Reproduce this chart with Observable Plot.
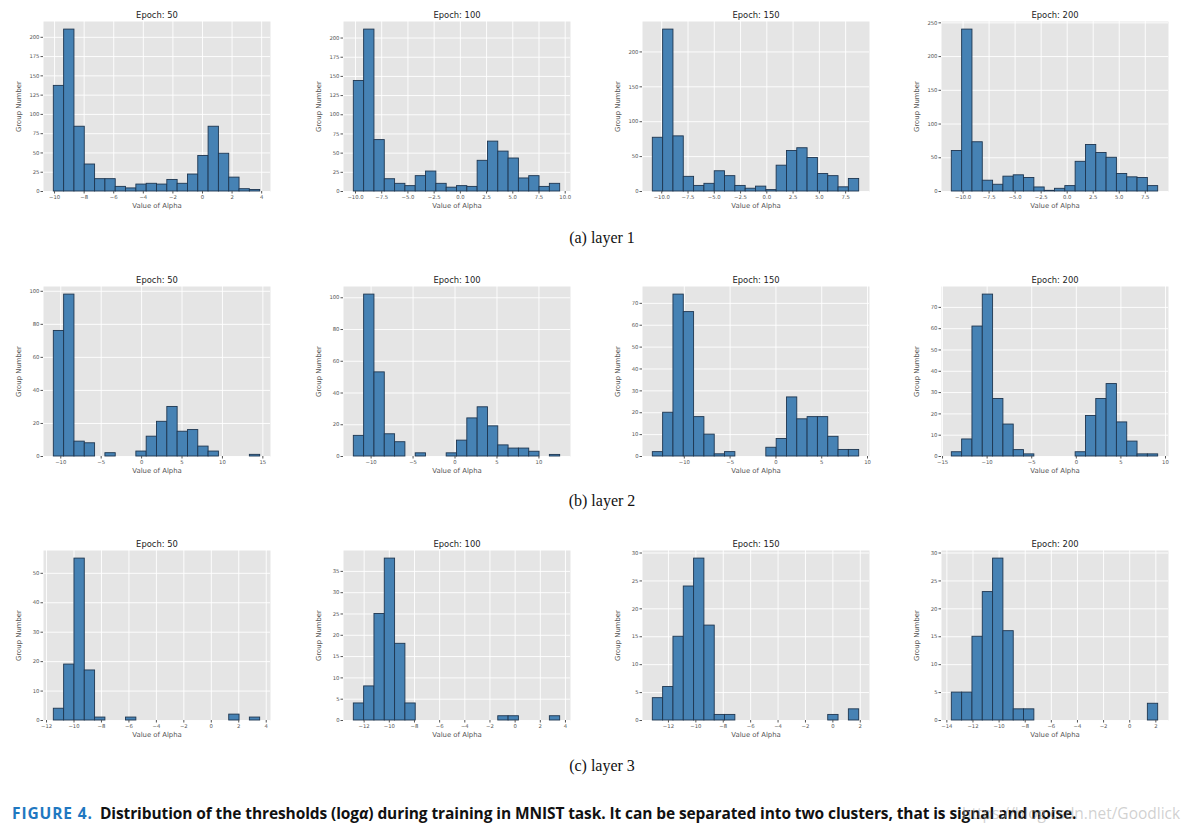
<!DOCTYPE html>
<html>
<head>
<meta charset="utf-8">
<script src="https://cdn.jsdelivr.net/npm/d3@7"></script>
<script src="https://cdn.jsdelivr.net/npm/@observablehq/plot@0.6"></script>
<style>
  html, body { margin: 0; padding: 0; background: #ffffff; }
  #fig { position: relative; width: 1189px; height: 833px; overflow: hidden; background: #fff; }
  .panel { position: absolute; }
  .panel svg { overflow: visible; }
  .sub { position: absolute; width: 200px; text-align: center; font-family: "Liberation Serif", "Times New Roman", serif; font-size: 16px; color: #111; line-height: 1; }
  #caption { position: absolute; left: 12px; top: 804px; white-space: nowrap; font-family: "Open Sans", sans-serif; font-weight: 700; font-size: 15.5px; color: #111; line-height: 1.2; letter-spacing: -0.1px; }
  #caption .fig { color: #1f78c1; margin-right: 7px; letter-spacing: 0.9px; }
  #wm { position: absolute; left: 962px; top: 804px; white-space: nowrap; font-family: "Open Sans", sans-serif; font-size: 15.5px; color: rgba(170,170,170,0.55); line-height: 1.2; }
</style>
</head>
<body>
<div id="fig"></div>
<script>
// ---------- text ----------
const epochTitles = ["Epoch: 50", "Epoch: 100", "Epoch: 150", "Epoch: 200"];
const layerCaptions = ["(a) layer 1", "(b) layer 2", "(c) layer 3"];
const xLabel = "Value of Alpha";
const yLabel = "Group Number";

// ---------- histogram counts (20 bins each) ----------
const layer1Epoch50  = [137, 210, 84, 35, 16, 16, 6, 4, 9, 10, 9, 15, 10, 22, 46, 84, 49, 18, 3, 2];
const layer1Epoch100 = [144, 211, 67, 16, 10, 7, 20, 26, 10, 5, 7, 6, 40, 65, 52, 43, 17, 20, 6, 10];
const layer1Epoch150 = [77, 232, 79, 21, 8, 11, 29, 22, 8, 4, 7, 2, 37, 58, 62, 48, 25, 22, 6, 18];
const layer1Epoch200 = [60, 240, 73, 16, 10, 22, 24, 20, 6, 1, 4, 8, 44, 69, 57, 50, 26, 21, 20, 8];

const layer2Epoch50  = [76, 98, 9, 8, 0, 2, 0, 0, 3, 12, 21, 30, 15, 16, 6, 3, 0, 0, 0, 1];
const layer2Epoch100 = [13, 102, 53, 14, 9, 0, 2, 0, 0, 2, 10, 24, 31, 19, 7, 5, 5, 3, 0, 1];
const layer2Epoch150 = [2, 20, 74, 66, 18, 10, 1, 2, 0, 0, 0, 4, 8, 27, 17, 18, 18, 9, 3, 3];
const layer2Epoch200 = [2, 8, 61, 76, 27, 15, 3, 1, 0, 0, 0, 0, 2, 19, 27, 34, 16, 7, 1, 1];

const layer3Epoch50  = [4, 19, 55, 17, 1, 0, 0, 1, 0, 0, 0, 0, 0, 0, 0, 0, 0, 2, 0, 1];
const layer3Epoch100 = [4, 8, 25, 38, 18, 4, 0, 0, 0, 0, 0, 0, 0, 0, 1, 1, 0, 0, 0, 1];
const layer3Epoch150 = [4, 6, 15, 24, 29, 17, 1, 1, 0, 0, 0, 0, 0, 0, 0, 0, 0, 1, 0, 2];
const layer3Epoch200 = [5, 5, 15, 23, 29, 16, 2, 2, 0, 0, 0, 0, 0, 0, 0, 0, 0, 0, 0, 3];

// ---------- bin ranges (min, max of alpha) ----------
const layer1Ranges = [[-10.05, 3.90], [-10.16, 9.52], [-10.85, 8.79], [-11.08, 8.74]];
const layer2Ranges = [[-10.86, 14.67], [-12.06, 12.53], [-13.44, 9.09], [-13.96, 9.18]];
const layer3Ranges = [[-11.47, 3.56], [-12.82, 3.58], [-13.14, 1.92], [-13.62, 2.18]];

// ---------- tick values ----------
const layer1XTicks = [
  [-10, -8, -6, -4, -2, 0, 2, 4],
  [-10, -7.5, -5, -2.5, 0, 2.5, 5, 7.5, 10],
  [-10, -7.5, -5, -2.5, 0, 2.5, 5, 7.5],
  [-10, -7.5, -5, -2.5, 0, 2.5, 5, 7.5]
];
const layer1XDecimals = [0, 1, 1, 1];
const layer1YTicks = [
  [0, 25, 50, 75, 100, 125, 150, 175, 200],
  [0, 25, 50, 75, 100, 125, 150, 175, 200],
  [0, 50, 100, 150, 200],
  [0, 50, 100, 150, 200, 250]
];
const layer2XTicks = [
  [-10, -5, 0, 5, 10, 15],
  [-10, -5, 0, 5, 10],
  [-10, -5, 0, 5, 10],
  [-15, -10, -5, 0, 5, 10]
];
const layer2XDecimals = [0, 0, 0, 0];
const layer2YTicks = [
  [0, 20, 40, 60, 80, 100],
  [0, 20, 40, 60, 80, 100],
  [0, 10, 20, 30, 40, 50, 60, 70],
  [0, 10, 20, 30, 40, 50, 60, 70]
];
const layer3XTicks = [
  [-12, -10, -8, -6, -4, -2, 0, 2, 4],
  [-12, -10, -8, -6, -4, -2, 0, 2, 4],
  [-12, -10, -8, -6, -4, -2, 0, 2],
  [-14, -12, -10, -8, -6, -4, -2, 0, 2]
];
const layer3XDecimals = [0, 0, 0, 0];
const layer3YTicks = [
  [0, 10, 20, 30, 40, 50],
  [0, 5, 10, 15, 20, 25, 30, 35],
  [0, 5, 10, 15, 20, 25, 30],
  [0, 5, 10, 15, 20, 25, 30]
];

// ---------- assemble ----------
const rowsSpec = [
  {counts: [layer1Epoch50, layer1Epoch100, layer1Epoch150, layer1Epoch200], ranges: layer1Ranges, xt: layer1XTicks, xd: layer1XDecimals, yt: layer1YTicks},
  {counts: [layer2Epoch50, layer2Epoch100, layer2Epoch150, layer2Epoch200], ranges: layer2Ranges, xt: layer2XTicks, xd: layer2XDecimals, yt: layer2YTicks},
  {counts: [layer3Epoch50, layer3Epoch100, layer3Epoch150, layer3Epoch200], ranges: layer3Ranges, xt: layer3XTicks, xd: layer3XDecimals, yt: layer3YTicks}
];

// layout (pixels)
const frameLefts = [43, 342.5, 641.5, 941];
const frameTops = [21, 285.7, 549.7];
const frameW = 227, frameH = 170;
const mL = 40, mR = 8, mT = 17, mB = 26;
const captionCenters = [238, 501, 766];

const fig = document.getElementById("fig");
const gridColor = "#ffffff";
const bgColor = "#e5e5e5";
const barFill = "#4682b4";
const barStroke = "#1e3650";
const tickColor = "#555555";

rowsSpec.forEach((row, r) => {
  row.counts.forEach((counts, c) => {
    const [lo, hi] = row.ranges[c];
    const n = counts.length;
    const w = (hi - lo) / n;
    const bins = counts.map((v, i) => ({x1: lo + i * w, x2: lo + (i + 1) * w, count: v}));
    const pad = 0.05 * (hi - lo);
    const xDomain = [lo - pad, hi + pad];
    const yDomain = [0, d3.max(counts) * 1.05];
    const xTicks = row.xt[c].filter(t => t >= xDomain[0] && t <= xDomain[1]);
    const yTicks = row.yt[c].filter(t => t <= yDomain[1]);
    const fmtX = d3.format(row.xd[c] ? ".1f" : "d");
    const fmtY = d3.format("d");

    const chart = Plot.plot({
      width: mL + frameW + mR,
      height: mT + frameH + mB,
      marginLeft: mL, marginRight: mR, marginTop: mT, marginBottom: mB,
      style: {background: "transparent", fontFamily: "DejaVu Sans, sans-serif", overflow: "visible"},
      x: {domain: xDomain},
      y: {domain: yDomain},
      marks: [
        Plot.frame({fill: bgColor, stroke: null}),
        Plot.ruleX(xTicks, {stroke: gridColor, strokeWidth: 0.9}),
        Plot.ruleY(yTicks, {stroke: gridColor, strokeWidth: 0.9}),
        Plot.rectY(bins.filter(d => d.count > 0), {x1: "x1", x2: "x2", y1: 0, y2: "count", fill: barFill, stroke: barStroke, strokeWidth: 0.9}),
        Plot.axisX(xTicks, {tickFormat: fmtX, tickSize: 2.5, tickPadding: 1.5, stroke: tickColor, fill: tickColor, fontSize: 5.3, label: null}),
        Plot.axisY(yTicks, {tickFormat: fmtY, tickSize: 2.5, tickPadding: 1.5, stroke: tickColor, fill: tickColor, fontSize: 5.3, label: null}),
        Plot.text([xLabel], {frameAnchor: "bottom", dy: 16, fontSize: 6.9, fill: tickColor, textAnchor: "middle"}),
        Plot.text([yLabel], {frameAnchor: "left", dx: -25, rotate: -90, fontSize: 6.9, fill: tickColor, textAnchor: "middle"}),
        Plot.text([epochTitles[c]], {frameAnchor: "top", dy: -9.3, fontSize: 8.4, fill: "#222", textAnchor: "middle"})
      ]
    });
    const holder = document.createElement("div");
    holder.className = "panel";
    holder.style.left = (frameLefts[c] - mL) + "px";
    holder.style.top = (frameTops[r] - mT) + "px";
    holder.appendChild(chart);
    fig.appendChild(holder);
  });
  const cap = document.createElement("div");
  cap.className = "sub";
  cap.textContent = layerCaptions[r];
  cap.style.left = (602 - 100) + "px";
  cap.style.top = (captionCenters[r] - 8) + "px";
  fig.appendChild(cap);
});

const caption = document.createElement("div");
caption.id = "caption";
caption.innerHTML = '<span class="fig">FIGURE 4.</span>Distribution of the thresholds (log<i>α</i>) during training in MNIST task. It can be separated into two clusters, that is signal and noise.';
fig.appendChild(caption);

const wm = document.createElement("div");
wm.id = "wm";
wm.textContent = "https://blog.csdn.net/Goodlick";
fig.appendChild(wm);
</script>
</body>
</html>
